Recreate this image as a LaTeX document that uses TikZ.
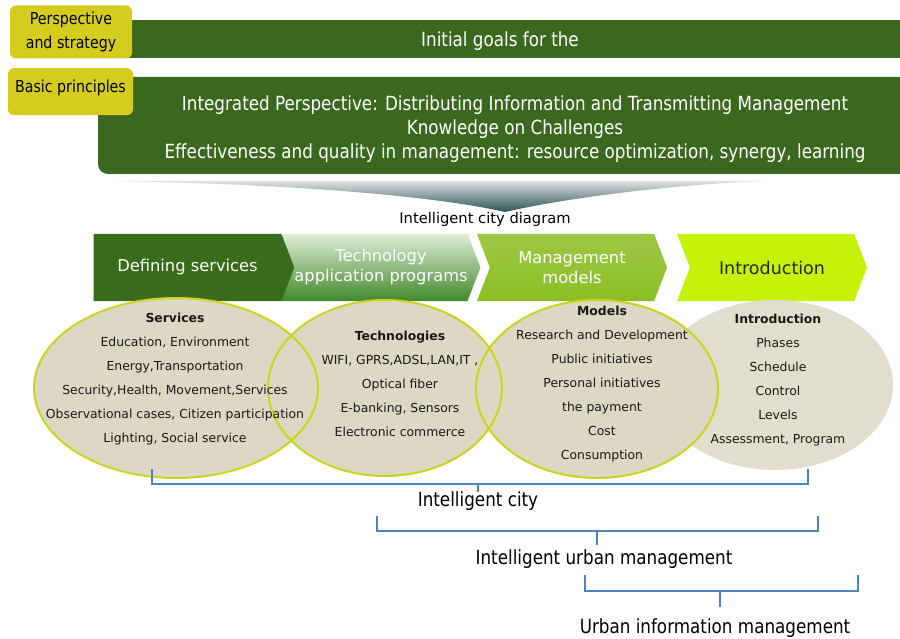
\documentclass[tikz,border=0pt]{standalone}
\usepackage{fontspec}
\setmainfont{DejaVu Sans}
\newfontfamily\narrowfont{DejaVu Sans}[FakeStretch=0.86]
\usetikzlibrary{shapes.symbols,positioning}

\definecolor{bargreen}{RGB}{58,104,30}
\definecolor{boxyellow}{RGB}{214,204,30}
\definecolor{chevdark}{RGB}{56,108,26}
\definecolor{chevlight}{RGB}{222,238,214}
\definecolor{chevmid}{RGB}{66,136,44}
\definecolor{chevgreen}{RGB}{140,190,36}
\definecolor{chevlime}{RGB}{198,242,10}
\definecolor{cellfill}{RGB}{221,216,196}
\definecolor{cellpale}{RGB}{226,222,206}
\definecolor{cellrim}{RGB}{202,212,30}
\definecolor{bracecol}{RGB}{79,129,189}
\definecolor{shadetip}{RGB}{40,84,84}

\tikzset{
  ybox/.style={fill=boxyellow,rounded corners=6pt,inner sep=0pt,align=center,
    font=\narrowfont\fontsize{16.5}{24}\selectfont},
  bartext/.style={text=white,align=center,font=\narrowfont\fontsize{19.5}{24}\selectfont},
  chev/.style={signal,signal to=east,inner sep=0pt,outer sep=0pt,
    minimum height=67pt,align=center,font=\fontsize{16.3}{20}\selectfont},
  celltext/.style={align=center,text=black!90,font=\fontsize{12.4}{24}\selectfont},
  bracetext/.style={font=\narrowfont\fontsize{19.5}{22}\selectfont},
  brace/.style={draw=bracecol,line width=1.2pt}
}

\begin{document}
\begin{tikzpicture}[x=1pt,y=-1pt]
\useasboundingbox[fill=white] (0,0) rectangle (900,639);

% goal bars
\fill[bargreen] (100,20) rectangle (900,58);
\node[bartext] (goals) at (500,41) {Initial goals for the};
\fill[bargreen] (900,77) -- (900,174) {[rounded corners=10pt] -- (98,174) -- (98,120)} -- (98,77) -- cycle;
\node[bartext] (principles) at (515,129) {Integrated Perspective: Distributing Information and Transmitting Management\\
  Knowledge on Challenges\\
  Effectiveness and quality in management: resource optimization, synergy, learning};
\node[ybox,minimum width=122pt,minimum height=53pt] (persp) at (71,32) {Perspective\\and strategy};
\node[ybox,minimum width=125pt,minimum height=47pt,anchor=north] (basic) at (70.5,68) {};
\node[font=\narrowfont\fontsize{16.5}{22}\selectfont] (basictxt) at (70.5,88) {Basic principles};

% shadow under the bars
\shade[top color=black!12,bottom color=shadetip] (112,181) .. controls (300,184) and (440,197) .. (505,212)
  .. controls (570,197) and (680,184) .. (765,181) -- cycle;
\node[font=\fontsize{14.7}{17}\selectfont] (title) at (485,219) {Intelligent city diagram};

% chevrons
\node[chev,fill=chevdark,text=white,signal pointer angle=110,minimum width=211pt] (define) at (187.5,267.5) {Defining services};
\node[chev,signal from=west,top color=chevlight,bottom color=chevmid,text=white,
  signal pointer angle=138,minimum width=196pt] (techn) at (381,267.5) {Technology\\application programs};
\node[chev,signal from=west,top color=chevgreen!85,bottom color=chevgreen,text=white,
  signal pointer angle=138,minimum width=190pt] (manage) at (572,267.5) {Management\\models};
\node[chev,signal from=west,fill=chevlime,text=black!85,font=\fontsize{17.5}{20}\selectfont,
  signal pointer angle=138,minimum width=190pt] (intro) at (772,267.5) {Introduction};

% cells
\fill[cellpale] (775,385) ellipse [x radius=118, y radius=85];
\foreach \cx/\cy/\rx/\ry in {176/388/142/90, 385/388/117/88, 597/389/121/89}
  \fill[cellfill] (\cx,\cy) ellipse [x radius=\rx, y radius=\ry];
\foreach \cx/\cy/\rx/\ry in {176/388/142/90, 385/388/117/88, 597/389/121/89}
  \draw[cellrim,line width=2pt] (\cx,\cy) ellipse [x radius=\rx, y radius=\ry];

\node[celltext] (services) at (175,379) {\textbf{Services}\\Education, Environment\\Energy,Transportation\\
  Security,Health, Movement,Services\\Observational cases, Citizen participation\\Lighting, Social service};
\node[celltext] (techs) at (400,384) {\textbf{Technologies}\\WIFI, GPRS,ADSL,LAN,IT ,\\Optical fiber\\
  E-banking, Sensors\\Electronic commerce};
\node[celltext] (models) at (602,384.5) {\textbf{Models}\\Research and Development\\Public initiatives\\
  Personal initiatives\\the payment\\Cost\\Consumption};
\node[celltext] (phases) at (778,380.5) {\textbf{Introduction}\\Phases\\Schedule\\Control\\Levels\\Assessment, Program};

% brackets
\draw[brace] (152,469) -- (152,484) -- (808,484) -- (808,469);
\draw[brace] (478,484) -- (478,492);
\node[bracetext] (city) at (478,501) {Intelligent city};
\draw[brace] (377,516) -- (377,531) -- (818,531) -- (818,516);
\draw[brace] (597,531) -- (597,545);
\node[bracetext] (urban) at (604,559) {Intelligent urban management};
\draw[brace] (585,575) -- (585,591) -- (858,591) -- (858,575);
\draw[brace] (720,591) -- (720,607);
\node[bracetext] (info) at (715,628) {Urban information management};
\end{tikzpicture}
\end{document}
